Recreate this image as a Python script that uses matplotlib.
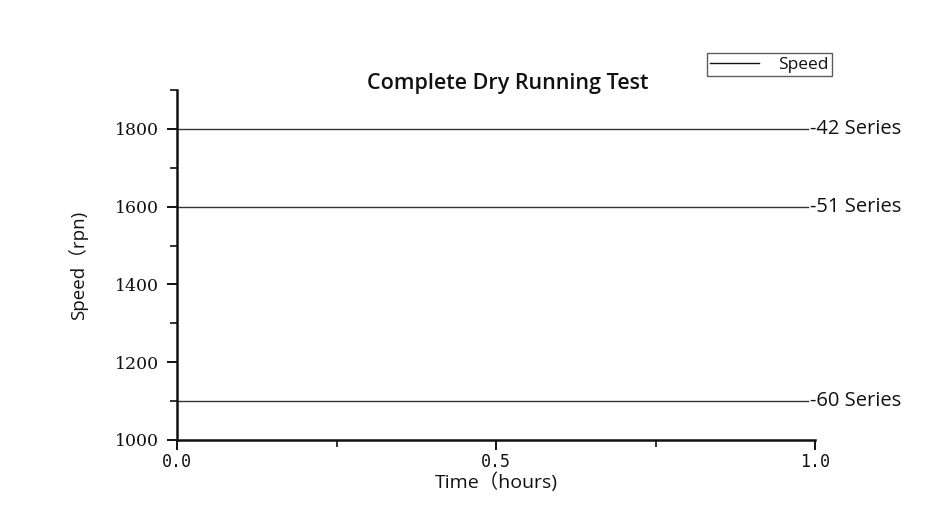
import matplotlib
matplotlib.use('Agg')
import matplotlib.pyplot as plt
from matplotlib.ticker import MultipleLocator

# speed levels for each pump series (rpm)
series_names = ['-42 Series', '-51 Series', '-60 Series']
series_speeds = [1800, 1600, 1100]
time_span = [0.0, 1.0]

x_ticks = [0.0, 0.5, 1.0]
x_ticklabels = ['0.0', '0.5', '1.0']
y_ticks = [1000, 1200, 1400, 1600, 1800]

sans = ['Open Sans', 'Noto Sans CJK SC', 'DejaVu Sans']
ink = '#111111'

fig = plt.figure(figsize=(9.41, 5.23), dpi=100)
ax = fig.add_axes([177/941, 83/523, 638/941, 350/523])

for i, (name, speed) in enumerate(zip(series_names, series_speeds)):
    ax.plot([time_span[0], time_span[1] - 0.011], [speed, speed], color='#333333', lw=1.0,
            label='Speed' if i == 0 else None)
    ax.text(time_span[1] - 0.008, speed, name, ha='left', va='center',
            fontsize=14.5, family=sans, color=ink)

ax.set_xlim(0, 1)
ax.set_ylim(1000, 1900)
ax.set_xticks(x_ticks)
ax.set_xticklabels(x_ticklabels, family='DejaVu Sans Mono', fontsize=12, color=ink)
ax.xaxis.set_minor_locator(MultipleLocator(0.25))
ax.set_yticks(y_ticks)
ax.set_yticklabels([str(v) for v in y_ticks], family='DejaVu Serif', fontsize=12.5, color=ink)
ax.yaxis.set_minor_locator(MultipleLocator(100))

ax.tick_params(axis='both', which='major', length=7, width=1.4, color=ink)
ax.tick_params(axis='y', which='major', pad=6)
ax.tick_params(axis='x', which='major', pad=2.5)
ax.tick_params(axis='both', which='minor', length=5, width=1.2, color=ink)

for side in ['top', 'right']:
    ax.spines[side].set_visible(False)
for side in ['left', 'bottom']:
    ax.spines[side].set_linewidth(1.8)
    ax.spines[side].set_color(ink)

ax.set_xlabel('Time（hours)', family=sans, fontsize=14, labelpad=1, color=ink)
ax.set_ylabel('Speed（rpn)', family=sans, fontsize=13.5, labelpad=19, color=ink)

fig.text(508/941, 1 - 83/523, 'Complete Dry Running Test', ha='center', va='center',
         family=sans, fontsize=15.5, fontweight='semibold', color=ink)

leg = fig.legend(loc='upper right', bbox_to_anchor=(832/941, 1 - 53/523),
                 prop={'family': sans, 'size': 12.5}, frameon=True, fancybox=False,
                 edgecolor='#333333', handlelength=2.8, handletextpad=1.1,
                 borderpad=0.2, borderaxespad=0, labelcolor=ink)
leg.get_frame().set_linewidth(1.0)
for line in leg.get_lines():
    line.set_color(ink)

fig.savefig('out.png', dpi=100, facecolor='white')
